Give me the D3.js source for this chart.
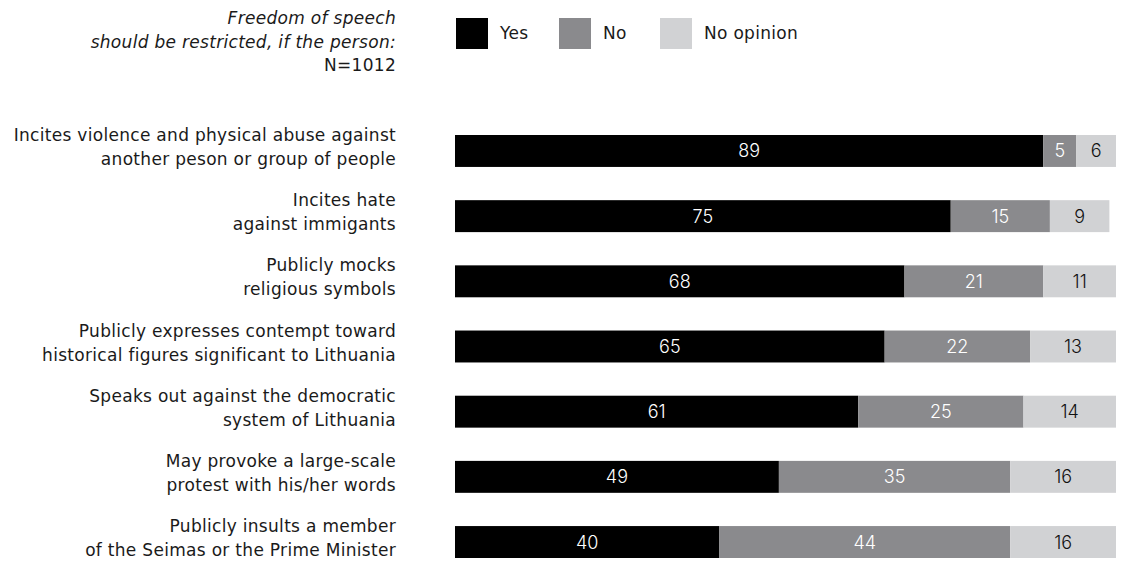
<!DOCTYPE html>
<html>
<head>
<meta charset="utf-8">
<script src="https://cdn.jsdelivr.net/npm/d3@7"></script>
<style>
  body { margin: 0; background: #fff; }
  svg { display: block; font-family: "DejaVu Sans", sans-serif; }
</style>
</head>
<body>
<div id="chart"></div>
<script>
var svgWidth = 1123;
var svgHeight = 561;

// data
var categories = [
  ["Incites violence and physical abuse against", "another peson or group of people"],
  ["Incites hate", "against immigants"],
  ["Publicly mocks", "religious symbols"],
  ["Publicly expresses contempt toward", "historical figures significant to Lithuania"],
  ["Speaks out against the democratic", "system of Lithuania"],
  ["May provoke a large-scale", "protest with his/her words"],
  ["Publicly insults a member", "of the Seimas or the Prime Minister"]
];
var yesValues = [89, 75, 68, 65, 61, 49, 40];
var noValues = [5, 15, 21, 22, 25, 35, 44];
var noOpinionValues = [6, 9, 11, 13, 14, 16, 16];
var seriesNames = ["Yes", "No", "No opinion"];
var seriesColors = ["#000000", "#8a8a8d", "#d1d2d4"];
var seriesTextColors = ["#ffffff", "#ffffff", "#111111"];
var titleLines = ["Freedom of speech", "should be restricted, if the person:"];
var sampleLabel = "N=1012";

var fontSize = "17px";
var spacing = "0.3px";

var svg = d3.select("#chart")
  .append("svg")
  .attr("width", svgWidth)
  .attr("height", svgHeight);

var rows = categories.map(function(c, i) {
  return { label: c, values: [yesValues[i], noValues[i], noOpinionValues[i]] };
});

var xScale = d3.scaleLinear()
  .domain([0, 100])
  .range([455, 1116]);

var yScale = d3.scaleBand()
  .domain(d3.range(rows.length))
  .range([135, 558])
  .paddingInner(0.51)
  .paddingOuter(0);

// title block (italic, right aligned)
var titleGroup = svg.append("g");
titleLines.forEach(function(t, i) {
  titleGroup.append("text")
    .attr("x", 396)
    .attr("y", 24 + i * 23.5)
    .attr("text-anchor", "end")
    .attr("font-size", fontSize)
    .attr("letter-spacing", spacing)
    .attr("font-style", "italic")
    .attr("fill", "#1a1a1a")
    .text(t);
});
titleGroup.append("text")
  .attr("x", 396)
  .attr("y", 71)
  .attr("text-anchor", "end")
  .attr("font-size", fontSize)
  .attr("letter-spacing", spacing)
  .attr("fill", "#1a1a1a")
  .text(sampleLabel);

// legend
var legendX = [456, 559, 660];
var legend = svg.append("g");
seriesNames.forEach(function(name, i) {
  legend.append("rect")
    .attr("x", legendX[i])
    .attr("y", 18)
    .attr("width", 32)
    .attr("height", 31)
    .attr("fill", seriesColors[i]);
  legend.append("text")
    .attr("x", legendX[i] + 44)
    .attr("y", 39)
    .attr("font-size", fontSize)
    .attr("letter-spacing", spacing)
    .attr("fill", "#1a1a1a")
    .text(name);
});

// category labels
var labelGroup = svg.append("g");
rows.forEach(function(d, i) {
  var cy = yScale(i) + yScale.bandwidth() / 2;
  d.label.forEach(function(line, j) {
    labelGroup.append("text")
      .attr("x", 396)
      .attr("y", cy - 10 + j * 24)
      .attr("text-anchor", "end")
      .attr("font-size", fontSize)
      .attr("letter-spacing", spacing)
      .attr("fill", "#1a1a1a")
      .text(line);
  });
});

// stacked bars
var barGroups = svg.selectAll(".row")
  .data(rows)
  .enter()
  .append("g")
  .attr("class", "row")
  .attr("transform", function(d, i) { return "translate(0," + yScale(i) + ")"; });

barGroups.each(function(d) {
  var g = d3.select(this);
  var start = 0;
  d.values.forEach(function(v, k) {
    var x0 = xScale(start);
    var x1 = xScale(start + v);
    g.append("rect")
      .attr("x", x0)
      .attr("y", 0)
      .attr("width", x1 - x0)
      .attr("height", yScale.bandwidth())
      .attr("fill", seriesColors[k]);
    g.append("text")
      .attr("x", (x0 + x1) / 2)
      .attr("y", yScale.bandwidth() / 2)
      .attr("dy", "0.36em")
      .attr("text-anchor", "middle")
      .attr("font-family", "Inter, sans-serif")
      .attr("font-size", "18px")
      .attr("font-weight", 300)
      .attr("fill", seriesTextColors[k])
      .text(v);
    start += v;
  });
});
</script>
</body>
</html>
